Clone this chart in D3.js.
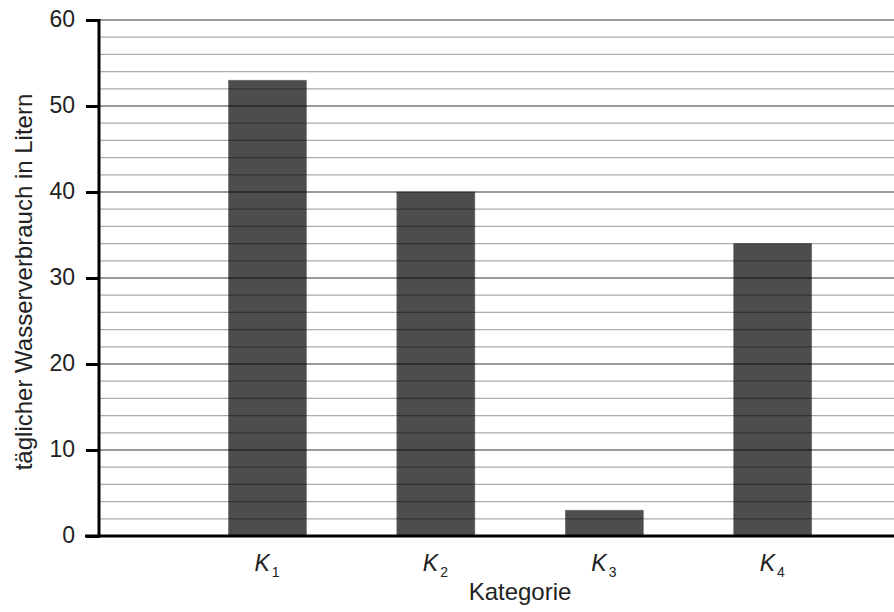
<!DOCTYPE html>
<html>
<head>
<meta charset="utf-8">
<script src="https://cdn.jsdelivr.net/npm/d3@7"></script>
<style>
  body { margin: 0; background: #fff; }
  text { font-family: "Liberation Sans", Helvetica, Arial, sans-serif; fill: #222; }
</style>
</head>
<body>
<svg id="chart" width="894" height="612"></svg>
<script>
// data
var categories = ["1", "2", "3", "4"];
var values = [53, 40, 3, 34];
var yTicks = [0, 10, 20, 30, 40, 50, 60];
var yLabel = "täglicher Wasserverbrauch in Litern";
var xLabel = "Kategorie";

var svg = d3.select("#chart");
var x0 = 99, y0 = 536, yTop = 20, xRight = 894;

var y = d3.scaleLinear().domain([0, 60]).range([y0, yTop]);
// category i sits at i, the axis at 0
var x = d3.scaleLinear().domain([0, 4.72]).range([x0, xRight]);
var barW = 78;

// bars
svg.selectAll(".bar")
    .data(values)
  .enter().append("rect")
    .attr("class", "bar")
    .attr("x", function(d, i) { return x(i + 1) - barW / 2; })
    .attr("y", function(d) { return y(d); })
    .attr("width", barW)
    .attr("height", function(d) { return y0 - y(d); })
    .attr("fill", "#4d4d4d")
    .attr("stroke", "#6e6e6e")
    .attr("stroke-width", 0.6);

// grid lines every 2, drawn over the bars
var grid = d3.range(2, 61, 2);
svg.selectAll(".grid")
    .data(grid)
  .enter().append("line")
    .attr("class", "grid")
    .attr("x1", x0)
    .attr("x2", xRight)
    .attr("y1", function(d) { return y(d); })
    .attr("y2", function(d) { return y(d); })
    .attr("stroke", "#000")
    .attr("stroke-opacity", function(d) { return d % 10 == 0 ? 0.53 : 0.33; })
    .attr("stroke-width", 1.3);

// y axis
var yAxis = d3.axisLeft(y).tickValues(yTicks).tickSize(13).tickPadding(11);
var gy = svg.append("g").attr("transform", "translate(" + x0 + ",0)").call(yAxis);
gy.select(".domain").remove();
gy.selectAll(".tick line").attr("stroke", "#000").attr("stroke-width", 3);
gy.selectAll(".tick text")
    .style("font-family", "Liberation Sans, Helvetica, Arial, sans-serif")
    .style("font-size", "23px")
    .attr("fill", "#222")
    .attr("dy", "0.3em");

svg.append("line")
    .attr("x1", x0).attr("x2", x0)
    .attr("y1", yTop - 1).attr("y2", y0 + 1.5)
    .attr("stroke", "#000").attr("stroke-width", 3);

svg.append("line")
    .attr("x1", x0 - 14).attr("x2", xRight)
    .attr("y1", y0).attr("y2", y0)
    .attr("stroke", "#000").attr("stroke-width", 3);

// category labels K with subscript
var lab = svg.selectAll(".klab")
    .data(categories)
  .enter().append("text")
    .attr("class", "klab")
    .attr("x", function(d, i) { return x(i + 1) - 13; })
    .attr("y", 571)
    .style("font-size", "23px");
lab.append("tspan").style("font-style", "italic").text("K");
lab.append("tspan")
    .attr("dx", 2)
    .attr("dy", 6)
    .style("font-size", "14px")
    .text(function(d) { return d; });

svg.append("text")
    .attr("x", 520)
    .attr("y", 600)
    .attr("text-anchor", "middle")
    .style("font-size", "24px")
    .text(xLabel);

svg.append("text")
    .attr("transform", "translate(32,282) rotate(-90)")
    .attr("text-anchor", "middle")
    .style("font-size", "24px")
    .text(yLabel);
</script>
</body>
</html>
